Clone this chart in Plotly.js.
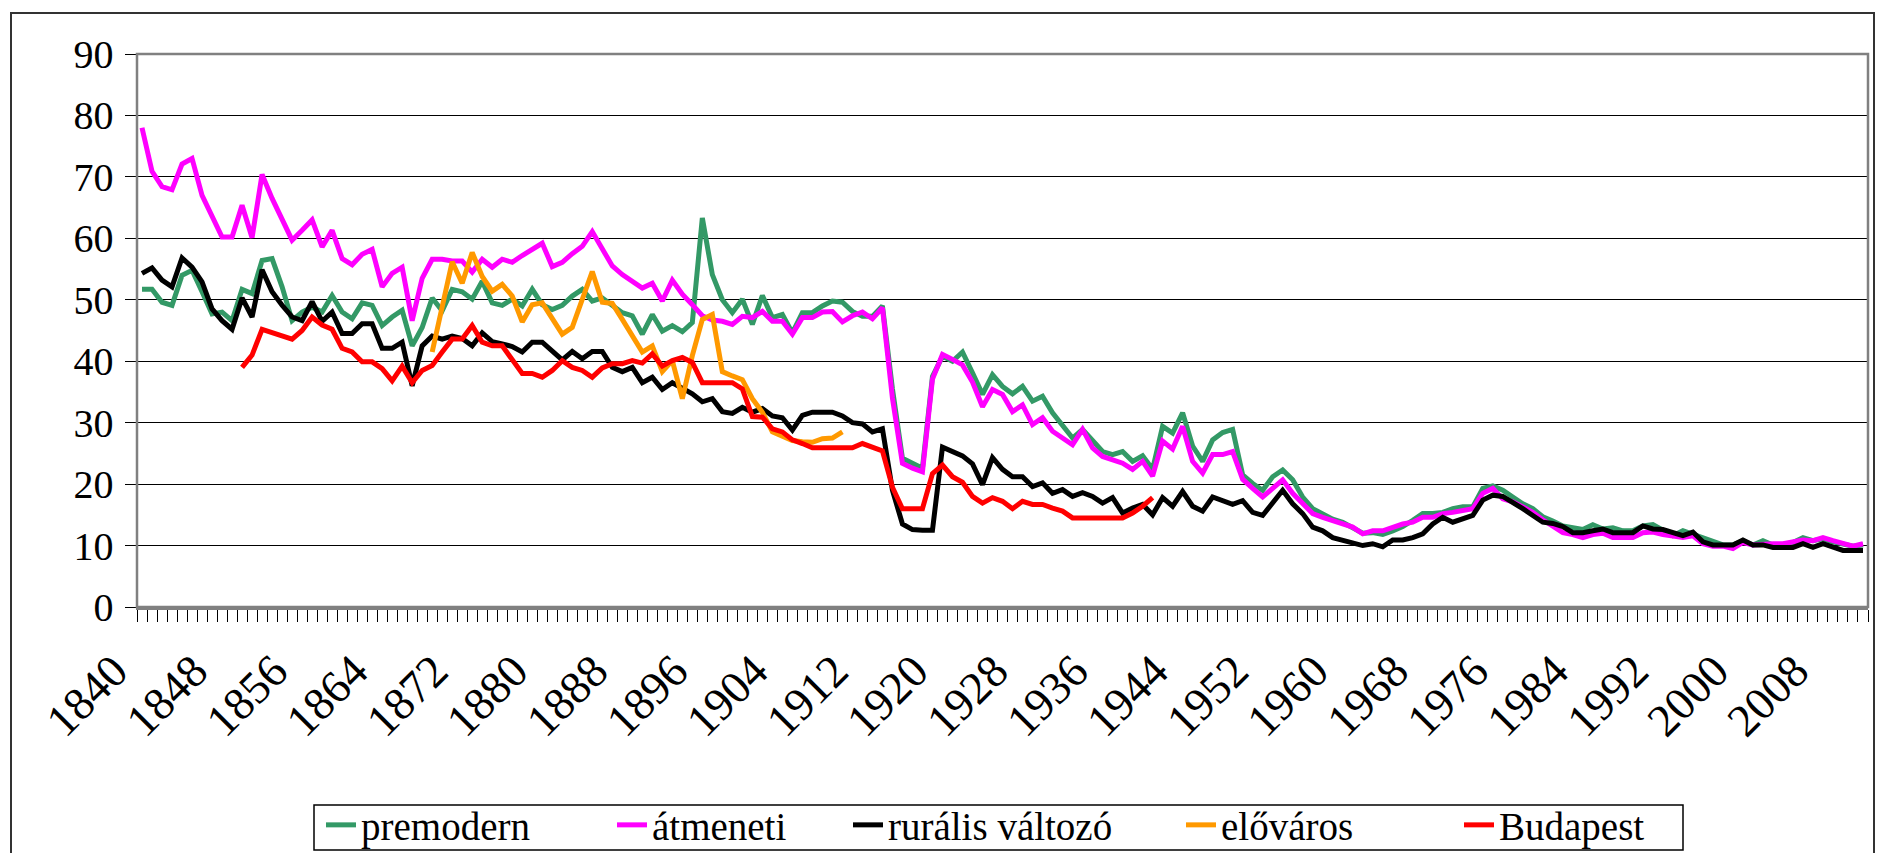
<!DOCTYPE html>
<html><head><meta charset="utf-8">
<script src="https://cdn.plot.ly/plotly-3.0.1.min.js"></script>
<style>
html,body{margin:0;padding:0;background:#fff;overflow:hidden}
#chart{position:absolute;left:0;top:0;width:1878px;height:853px}
#frame{position:absolute;left:10px;top:12px;width:1865px;height:900px;border:2px solid #333;box-sizing:border-box;pointer-events:none}
</style></head><body>
<div id="chart"></div><div id="frame"></div>
<script>
// ---- data ----
const seriesNames = ["premodern", "átmeneti", "rurális változó", "előváros", "Budapest"];
const seriesColors = ["#339966", "#FF00FF", "#000000", "#FF9900", "#FF0000"];

const premodernStart = 1840;
const premodern = [
51.7,51.7,49.6,49.1,54.0,54.8,51.3,47.7,48.0,46.6, 51.7,51.0,56.4,56.7,52.1,46.6,48.0,48.8,48.0,50.7,
48.0,46.9,49.5,49.1,45.8,47.2,48.3,42.5,45.5,50.3, 48.2,51.7,51.3,50.1,53.0,49.5,49.1,50.1,49.0,51.7,
49.2,48.4,49.1,50.6,51.7,49.8,50.3,49.2,47.9,47.4, 44.4,47.6,44.9,45.8,44.8,46.3,63.3,54.1,50.0,47.9,
50.1,46.0,50.7,47.1,47.6,44.6,47.9,47.9,49.0,49.8, 49.6,48.1,47.3,47.3,49.0,35.5,24.2,23.4,22.6,37.5,
40.8,40.0,41.5,38.1,34.6,37.8,35.9,34.7,35.9,33.5, 34.3,31.6,29.7,27.5,28.9,27.0,25.3,24.8,25.3,23.7,
24.6,22.4,29.4,28.3,31.6,26.2,23.7,27.2,28.4,28.9, 21.5,20.1,19.0,21.2,22.3,20.7,17.9,16.0,15.2,14.3,
13.8,13.0,12.0,12.1,11.8,12.4,13.1,14.1,15.2,15.2, 15.4,16.0,16.3,16.3,19.3,19.7,19.0,17.9,16.8,16.0,
14.7,14.0,13.2,12.9,12.6,13.4,12.7,12.9,12.4,12.4, 13.2,13.4,12.6,11.6,12.4,11.8,11.1,10.5,10.1,10.1,
10.8,10.1,10.8,10.1,10.1,10.5,11.3,10.8,11.1,10.6, 10.3,9.9,10.1];

const atmenetiStart = 1840;
const atmeneti = [
78.0,70.9,68.4,67.9,72.1,73.0,67.0,63.8,60.2,60.2, 65.4,60.1,70.4,66.5,63.2,59.7,61.3,63.0,58.6,61.3,
56.7,55.7,57.4,58.2,52.1,54.3,55.3,46.6,53.5,56.6, 56.6,56.3,56.3,54.5,56.6,55.3,56.6,56.1,57.2,58.1,
59.2,55.4,56.1,57.5,58.7,61.1,58.4,55.5,54.1,53.0, 51.9,52.7,49.8,53.2,50.9,49.2,47.4,46.7,46.5,46.0,
47.3,47.1,48.1,46.5,46.5,44.4,47.1,47.1,48.0,48.1, 46.4,47.4,48.0,46.9,48.7,34.0,23.4,22.6,22.0,37.1,
41.1,40.3,39.4,36.6,32.6,35.4,34.6,31.8,32.9,29.7, 30.8,28.6,27.5,26.4,28.9,25.9,24.5,24.0,23.4,22.4,
23.7,21.3,27.0,25.7,29.4,23.7,21.8,24.8,24.8,25.3, 20.8,19.3,17.9,19.3,20.7,18.5,16.8,15.2,14.6,14.1,
13.5,13.0,11.9,12.4,12.4,13.0,13.5,13.8,14.6,14.6, 15.2,15.4,15.7,16.0,18.5,19.3,17.6,17.1,16.3,15.4,
14.2,13.2,12.1,11.8,11.3,11.8,12.0,11.3,11.3,11.3, 12.1,12.2,11.8,11.6,11.3,11.6,10.3,9.9,9.9,9.5,
10.5,10.1,10.3,10.3,10.3,10.5,10.9,10.8,11.3,10.8, 10.3,9.9,10.3];

const ruralisStart = 1840;
const ruralis = [
54.3,55.2,53.2,52.1,56.8,55.3,52.9,48.5,46.6,45.2, 50.3,47.2,54.9,51.3,49.1,47.2,46.6,49.7,46.5,48.0,
44.5,44.5,46.1,46.1,42.1,42.1,43.1,36.0,42.5,44.1, 43.6,44.1,43.7,42.5,44.6,43.2,42.8,42.4,41.5,43.1,
43.1,41.7,40.2,41.6,40.4,41.6,41.6,39.0,38.3,39.0, 36.5,37.4,35.4,36.5,35.6,34.7,33.4,33.9,31.8,31.5,
32.5,31.7,32.3,31.1,30.8,28.8,31.2,31.7,31.7,31.7, 31.1,30.0,29.8,28.5,29.0,19.0,13.5,12.6,12.5,12.5,
26.0,25.3,24.6,23.3,19.9,24.3,22.4,21.2,21.2,19.6, 20.2,18.5,19.1,18.0,18.6,18.0,16.9,17.8,15.3,16.1,
16.7,15.0,17.8,16.4,18.8,16.4,15.6,17.9,17.2,16.7, 17.3,15.4,14.9,17.1,19.0,16.8,15.2,13.0,12.4,11.3,
10.8,10.5,10.0,10.3,9.8,10.9,10.9,11.3,11.9,13.5, 14.6,13.8,14.3,14.9,17.4,18.2,18.0,17.1,16.0,14.9,
13.8,13.6,13.1,12.1,12.1,12.4,12.7,12.1,12.1,12.1, 13.2,12.7,12.6,12.1,11.6,12.2,10.6,10.1,10.1,10.1,
10.9,10.1,10.1,9.7,9.7,9.7,10.3,9.7,10.3,9.7, 9.2,9.2,9.2];

const elovarosStart = 1869;
const elovaros = [
41.5,48.8,56.2,52.7,57.7,53.8,51.4,52.5,50.6,46.4, 49.2,49.5,47.1,44.4,45.5,50.1,54.6,49.6,49.4,46.8,
44.1,41.5,42.5,38.3,40.1,33.9,40.9,46.8,47.6,38.3, 37.6,37.0,33.9,31.7,28.5,27.9,27.1,26.9,26.8,27.4,
27.5,28.5];

const budapestStart = 1850;
const budapest = [
39.0,41.0,45.2,44.7,44.3,43.6,45.0,47.2,45.9,45.2, 42.1,41.5,39.9,39.9,38.8,36.8,39.2,36.5,38.5,39.3,
41.5,43.6,43.6,45.8,43.1,42.5,42.5,40.1,38.0,38.0, 37.4,38.5,40.1,39.0,38.5,37.4,38.9,39.6,39.6,40.1,
39.7,41.2,39.2,40.1,40.6,39.8,36.5,36.5,36.5,36.5, 35.5,31.0,30.9,29.0,28.5,27.2,26.6,25.9,25.9,25.9,
25.9,25.9,26.6,26.1,25.4,19.5,16.0,16.0,16.0,21.7, 23.1,21.2,20.3,18.0,16.9,17.8,17.2,16.0,17.2,16.7,
16.7,16.1,15.6,14.5,14.5,14.5,14.5,14.5,14.5,15.3, 16.4,17.8];

const tickYears = [1840,1848,1856,1864,1872,1880,1888,1896,1904,1912,1920,1928,1936,1944,1952,1960,1968,1976,1984,1992,2000,2008];
const yTicks = [0,10,20,30,40,50,60,70,80,90];
const firstYear = 1840, lastYear = 2012;

// ---- build ----
function yearsFrom(start, n){ const a=[]; for(let i=0;i<n;i++) a.push(start+i); return a; }
const allSeries = [
  [premodernStart, premodern], [atmenetiStart, atmeneti], [ruralisStart, ruralis],
  [elovarosStart, elovaros], [budapestStart, budapest]
];
const FONT = '"Liberation Serif", serif';
const legendIds = ["legend", "legend2", "legend3", "legend4", "legend5"];
const traces = allSeries.map((s, k) => ({
  type: "scatter", mode: "lines", name: seriesNames[k],
  x: yearsFrom(s[0], s[1].length), y: s[1],
  line: {color: seriesColors[k], width: 5, shape: "linear"},
  legend: legendIds[k],
  hoverinfo: "skip"
}));

// plot area in px: x 137..1868, y 54..607
const PL = 137, PW = 1731, PB = 607, PH = 553;
const px2x = v => (v - PL) / PW;
const px2y = v => (PB - v) / PH;
const legendItemPx = [321, 612, 848, 1181, 1459];

const layout = {
  width: 1878, height: 853,
  margin: {l: 137, r: 10, t: 54, b: 246, autoexpand: false},
  paper_bgcolor: "#fff", plot_bgcolor: "#fff",
  font: {family: FONT, color: "#000", size: 38},
  showlegend: true,
  xaxis: {
    range: [firstYear - 0.5, lastYear + 0.5],
    tickmode: "array", tickvals: tickYears, ticktext: tickYears.map(String),
    ticks: "", tickangle: -45,
    ticklabelshift: -28, ticklabelstandoff: 16,
    tickfont: {family: FONT, size: 46, color: "#000"},
    showgrid: false, zeroline: false, automargin: false,
    showline: true, linecolor: "#808080", linewidth: 2.5,
    minor: {tickmode: "linear", tick0: firstYear - 0.5, dtick: 1, ticks: "outside",
            ticklen: 12, tickcolor: "#000", tickwidth: 1, showgrid: false}
  },
  yaxis: {
    range: [0, 90], tickmode: "array", tickvals: yTicks,
    ticks: "outside", ticklen: 11, tickcolor: "#000", tickwidth: 1,
    ticklabelstandoff: 3, automargin: false,
    tickfont: {family: FONT, size: 40, color: "#000"},
    showgrid: true, gridcolor: "#000", gridwidth: 1, zeroline: false,
    showline: true, linecolor: "#000", linewidth: 1.5
  },
  shapes: [
    {type: "rect", xref: "paper", yref: "paper", x0: 0, x1: 1, y0: 0, y1: 1,
     line: {color: "#808080", width: 2.5}, fillcolor: "rgba(0,0,0,0)", layer: "above"},
    {type: "rect", xref: "paper", yref: "paper",
     x0: px2x(314), x1: px2x(1683), y0: px2y(805), y1: px2y(850),
     line: {color: "#000", width: 1.5}, fillcolor: "#fff", layer: "below"}
  ],
  hovermode: false
};
legendIds.forEach((id, k) => {
  layout[id] = {
    orientation: "h", x: px2x(legendItemPx[k]), y: px2y(825), xanchor: "left", yanchor: "middle",
    borderwidth: 0, bgcolor: "rgba(0,0,0,0)",
    font: {family: FONT, size: 39, color: "#000"}
  };
});
Plotly.newPlot("chart", traces, layout, {staticPlot: true, displayModeBar: false});
</script>
</body></html>
